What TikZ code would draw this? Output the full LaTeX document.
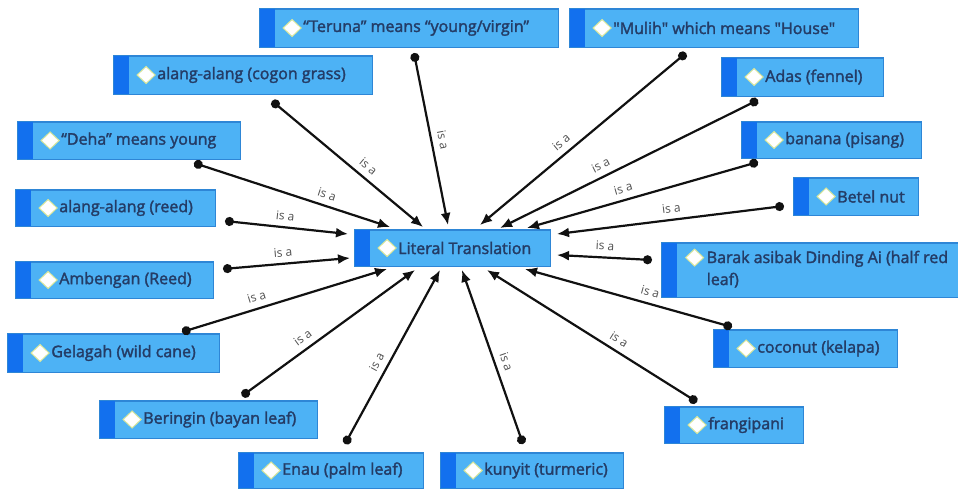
\documentclass[tikz,border=0pt]{standalone}
\usepackage{fontspec}
\setmainfont{Open Sans}
\newfontfamily\boxfont{Open Sans}[FakeBold=2]
\usetikzlibrary{arrows.meta,calc}
\definecolor{boxfill}{HTML}{4DB2F5}
\definecolor{stripc}{HTML}{1270EE}
\definecolor{boxline}{HTML}{2E86D6}
\definecolor{txtc}{HTML}{243C66}
\definecolor{diamline}{HTML}{D6E59A}
\definecolor{lblc}{HTML}{505050}
\definecolor{edgec}{HTML}{111111}
\tikzset{
 boxst/.style={draw=boxline, line width=0.8pt, fill=boxfill, inner sep=0pt, rectangle},
 txtst/.style={font=\boxfont\fontsize{16}{22}\selectfont, text=txtc, inner sep=0pt, anchor=west, align=left},
 isa/.style={draw=edgec, line width=2.2pt, {Circle[length=9pt]}-{Latex[length=12pt,width=10pt]}},
 lbl/.style={font=\fontsize{12}{14}\selectfont, text=lblc, sloped, above=5pt, inner sep=1pt},
}
\newcommand\mkbox[6]{%
 \node[boxst, minimum width=#4pt, minimum height=#5pt] (#1) at (#2,#3) {};
 \fill[stripc] (#1.north west) rectangle ([xshift=15pt]#1.south west);
 \draw[boxline, line width=0.8pt] (#1.north west) rectangle (#1.south east);
 \fill[white, draw=diamline, line width=1pt] ([xshift=23.5pt]#1.west) -- ([xshift=32.5pt,yshift=8.5pt]#1.west) -- ([xshift=41.5pt]#1.west) -- ([xshift=32.5pt,yshift=-8.5pt]#1.west) -- cycle;
 \node[txtst] (#1-t) at ([xshift=43.5pt]#1.west) {#6};
}
\begin{document}
\begin{tikzpicture}[x=1pt,y=-1pt]
\fill[white] (0,0) rectangle (958,489);
\useasboundingbox (0,0) rectangle (958,489);

\mkbox{lt}{452.5}{248}{195}{36}{Literal Translation}
\mkbox{teruna}{409}{28}{298}{38}{“Teruna” means “young/virgin”}
\mkbox{mulih}{714}{28}{288}{38}{"Mulih" which means "House"}
\mkbox{cogon}{243}{75}{258}{38}{alang-alang (cogon grass)}
\mkbox{adas}{802.5}{77}{161}{38}{Adas (fennel)}
\mkbox{deha}{129}{140.5}{222}{37}{“Deha” means young}
\mkbox{banana}{831.5}{140}{179}{36}{banana (pisang)}
\mkbox{betel}{856}{196.5}{124}{37}{Betel nut}
\mkbox{reed}{115.5}{208}{199}{36}{alang-alang (reed)}
\mkbox{ambengan}{114.5}{280}{197}{36}{Ambengan (Reed)}
\mkbox{coconut}{805.5}{348.5}{183}{37}{coconut (kelapa)}
\mkbox{gelagah}{113.5}{353}{211}{38}{Gelagah (wild cane)}
\mkbox{frangipani}{734}{425}{138}{36}{frangipani}
\mkbox{beringin}{208.5}{419.5}{217}{37}{Beringin (bayan leaf)}
\mkbox{enau}{331}{470.5}{184}{35}{Enau (palm leaf)}
\mkbox{kunyit}{532}{470.5}{182}{35}{kunyit (turmeric)}

% Barak: two-line box
\node[boxst, minimum width=296pt, minimum height=54pt] (barak) at (810,270) {};
\fill[stripc] (barak.north west) rectangle ([xshift=15pt]barak.south west);
\draw[boxline, line width=0.8pt] (barak.north west) rectangle (barak.south east);
\fill[white, draw=diamline, line width=1pt] ([shift={(24,15)}]barak.north west) -- ([shift={(33,6.5)}]barak.north west) -- ([shift={(42,15)}]barak.north west) -- ([shift={(33,23.5)}]barak.north west) -- cycle;
\node[txtst, anchor=north west] (barak-t) at ([shift={(45,8)}]barak.north west) {Barak asibak Dinding Ai (half red\\leaf)};

% connectors
\draw[isa] ([shift={(5,25)}]teruna.center) -- node[lbl,pos=0.52]{is a} ([shift={(-4.5,-23)}]lt.center);
\draw[isa] ([shift={(-28,25)}]mulih.center) -- node[lbl,pos=0.57]{is a} ([shift={(27.5,-23)}]lt.center);
\draw[isa] ([shift={(29,26)}]cogon.center) -- node[lbl,pos=0.59]{is a} ([shift={(-29.5,-21)}]lt.center);
\draw[isa] ([shift={(-44.5,23)}]adas.center) -- node[lbl,pos=0.59]{is a} ([shift={(47.5,-20)}]lt.center);
\draw[isa] ([shift={(65,22.5)}]deha.center) -- node[lbl,pos=0.66]{is a} ([shift={(-62.5,-21)}]lt.center);
\draw[isa] ([shift={(-73.5,22)}]banana.center) -- node[lbl,pos=0.57]{is a} ([shift={(74.5,-20)}]lt.center);
\draw[isa] ([shift={(-72,9.5)}]betel.center) -- node[lbl,pos=0.49]{is a} ([shift={(104.5,-14)}]lt.center);
\draw[isa] ([shift={(109.5,13)}]reed.center) -- node[lbl,pos=0.48]{is a} ([shift={(-104.5,-14)}]lt.center);
\draw[isa] ([shift={(-158,-10)}]barak.center) -- node[lbl,pos=0.5]{is a} ([shift={(104.5,7)}]lt.center);
\draw[isa] ([shift={(108.5,-11)}]ambengan.center) -- node[lbl,pos=0.48]{is a} ([shift={(-102.5,10)}]lt.center);
\draw[isa] ([shift={(-73.5,-21.5)}]coconut.center) -- node[lbl,pos=0.41]{is a} ([shift={(72.5,21)}]lt.center);
\draw[isa] ([shift={(68.5,-21)}]gelagah.center) -- node[lbl,pos=0.38]{is a} ([shift={(-65.5,21)}]lt.center);
\draw[isa] ([shift={(-37,-23)}]frangipani.center) -- node[lbl,pos=0.40]{is a} ([shift={(34.5,22)}]lt.center);
\draw[isa] ([shift={(33.5,-23.5)}]beringin.center) -- node[lbl,pos=0.39]{is a} ([shift={(-37.5,22)}]lt.center);
\draw[isa] ([shift={(14,-26.5)}]enau.center) -- node[lbl,pos=0.44]{is a} ([shift={(-12.5,22)}]lt.center);
\draw[isa] ([shift={(-9,-26.5)}]kunyit.center) -- node[lbl,pos=0.45]{is a} ([shift={(9.5,22)}]lt.center);
\end{tikzpicture}
\end{document}
